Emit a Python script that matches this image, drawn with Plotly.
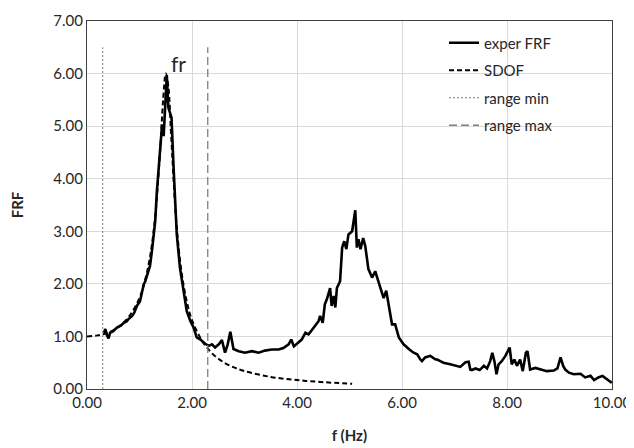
import plotly.graph_objects as go

exper_f = [0.32, 0.35, 0.38, 0.41, 0.44, 0.50, 0.57, 0.65, 0.70, 0.76, 0.79, 0.86, 0.90, 0.95,
           1.01, 1.04, 1.06, 1.08, 1.11, 1.14, 1.17, 1.20, 1.24, 1.27, 1.30, 1.33, 1.36, 1.40,
           1.43, 1.46, 1.49, 1.52, 1.55, 1.58, 1.61, 1.65, 1.68, 1.71, 1.77, 1.84, 1.90, 1.97,
           2.03, 2.09, 2.16, 2.25, 2.32, 2.38, 2.44, 2.51, 2.57, 2.63, 2.68, 2.73, 2.79, 2.89,
           3.01, 3.14, 3.27, 3.39, 3.52, 3.65, 3.74, 3.84, 3.89, 3.94, 4.03, 4.09, 4.16, 4.22,
           4.32, 4.41, 4.44, 4.49, 4.53, 4.57, 4.63, 4.66, 4.70, 4.73, 4.76, 4.82, 4.86, 4.90,
           4.94, 4.98, 5.05, 5.08, 5.11, 5.14, 5.17, 5.21, 5.26, 5.30, 5.36, 5.43, 5.49, 5.59,
           5.65, 5.70, 5.75, 5.81, 5.87, 5.94, 6.03, 6.09, 6.13, 6.22, 6.29, 6.35, 6.38, 6.44,
           6.51, 6.54, 6.64, 6.67, 6.73, 6.79, 6.92, 7.05, 7.11, 7.21, 7.27, 7.30, 7.33, 7.40,
           7.48, 7.56, 7.62, 7.68, 7.72, 7.76, 7.80, 7.84, 7.90, 7.97, 8.05, 8.09, 8.14, 8.19,
           8.25, 8.30, 8.36, 8.39, 8.44, 8.54, 8.63, 8.76, 8.89, 8.96, 9.02, 9.07, 9.11, 9.18,
           9.27, 9.40, 9.49, 9.59, 9.66, 9.74, 9.82, 9.90, 9.98, 10.00]
exper_v = [1.07, 1.14, 1.02, 0.96, 1.07, 1.10, 1.17, 1.21, 1.26, 1.29, 1.33, 1.39, 1.45, 1.58,
           1.67, 1.80, 1.95, 1.99, 2.05, 2.15, 2.24, 2.34, 2.65, 2.94, 3.20, 3.75, 4.10, 4.53,
           5.03, 4.81, 5.35, 5.97, 5.35, 5.25, 5.16, 4.20, 3.58, 2.94, 2.31, 1.86, 1.48, 1.29,
           1.17, 0.98, 0.94, 0.86, 0.82, 0.85, 0.79, 0.85, 0.93, 0.69, 0.85, 1.09, 0.76, 0.72,
           0.69, 0.72, 0.69, 0.73, 0.75, 0.75, 0.78, 0.85, 0.94, 0.81, 0.88, 0.94, 1.07, 1.04,
           1.17, 1.29, 1.39, 1.26, 1.61, 1.71, 1.92, 1.58, 1.77, 1.55, 1.92, 2.05, 2.69, 2.81,
           2.66, 2.94, 3.00, 3.19, 3.40, 2.69, 2.85, 2.66, 2.87, 2.72, 2.28, 2.12, 2.24, 1.92,
           1.73, 1.87, 1.61, 1.23, 1.23, 0.98, 0.85, 0.79, 0.76, 0.69, 0.66, 0.56, 0.53, 0.60,
           0.63, 0.63, 0.56, 0.56, 0.53, 0.50, 0.47, 0.44, 0.42, 0.51, 0.52, 0.37, 0.36, 0.39,
           0.36, 0.44, 0.39, 0.53, 0.69, 0.53, 0.28, 0.47, 0.53, 0.63, 0.79, 0.47, 0.56, 0.44,
           0.56, 0.34, 0.69, 0.72, 0.37, 0.40, 0.37, 0.34, 0.35, 0.39, 0.60, 0.44, 0.37, 0.31,
           0.28, 0.29, 0.22, 0.25, 0.17, 0.22, 0.25, 0.19, 0.13, 0.14]

# fitted single-degree-of-freedom curve
sdof_f = [0.0, 0.2, 0.4, 0.6, 0.8, 1.0, 1.1, 1.2, 1.3, 1.4, 1.45, 1.5, 1.55, 1.6, 1.7,
          1.8, 1.9, 2.0, 2.2, 2.3, 2.4, 2.6, 2.8, 3.0, 3.5, 4.0, 4.5, 5.05]
sdof_v = [1.00, 1.02, 1.07, 1.18, 1.38, 1.73, 2.05, 2.51, 3.29, 4.64, 5.50, 6.00, 5.75, 4.87, 3.20,
          2.23, 1.67, 1.31, 0.90, 0.77, 0.66, 0.51, 0.41, 0.34, 0.23, 0.17, 0.13, 0.10]

range_min_f = [0.3, 0.3]
range_max_f = [2.3, 2.3]
range_v = [0.0, 6.5]

FONT = "Lato"
INK = "#262626"

fig = go.Figure()
fig.add_trace(go.Scatter(x=exper_f, y=exper_v, mode="lines", name="exper FRF",
                         line={"color": "black", "width": 2.6}))
fig.add_trace(go.Scatter(x=sdof_f, y=sdof_v, mode="lines", name="SDOF", line_shape="spline",
                         line={"color": "black", "width": 2, "dash": "5px,3px"}))
fig.add_trace(go.Scatter(x=range_min_f, y=range_v, mode="lines", name="range min",
                         line={"color": "#7f7f7f", "width": 1, "dash": "2px,2px"}))
fig.add_trace(go.Scatter(x=range_max_f, y=range_v, mode="lines", name="range max",
                         line={"color": "#7f7f7f", "width": 1.3, "dash": "8px,4px"}))

fig.add_annotation(x=1.74, y=6.2, text="fr", showarrow=False,
                   font={"family": FONT, "size": 21, "color": INK})

axis_common = dict(showgrid=True, gridcolor="#d9d9d9", gridwidth=1, zeroline=False,
                   showline=True, linecolor="#404040", linewidth=1.2, mirror=True,
                   automargin=False,
                   ticks="", tickfont={"family": FONT, "size": 15, "color": INK})
fig.update_xaxes(range=[0, 10], dtick=2, tickformat=".2f",
                 title={"text": "<b>f (Hz)</b>", "font": {"family": FONT, "size": 15, "color": INK}, "standoff": 20},
                 **axis_common)
fig.update_yaxes(range=[0, 7], dtick=1, tickformat=".2f",
                 title={"text": "<b>FRF</b>", "font": {"family": FONT, "size": 15, "color": INK}, "standoff": 26},
                 **axis_common)

fig.update_layout(
    width=634, height=448,
    margin={"l": 79, "r": 30, "t": 13, "b": 67},
    paper_bgcolor="white", plot_bgcolor="white",
    font={"family": FONT, "color": INK},
    legend={"x": 0.68, "y": 0.985, "xanchor": "left", "yanchor": "top",
            "bgcolor": "rgba(0,0,0,0)", "font": {"family": FONT, "size": 15, "color": INK},
            "itemwidth": 30, "tracegroupgap": 5},
)
for i, tr in enumerate(fig.data):
    tr.legendgroup = f"g{i}"

fig.write_html("out.html")
